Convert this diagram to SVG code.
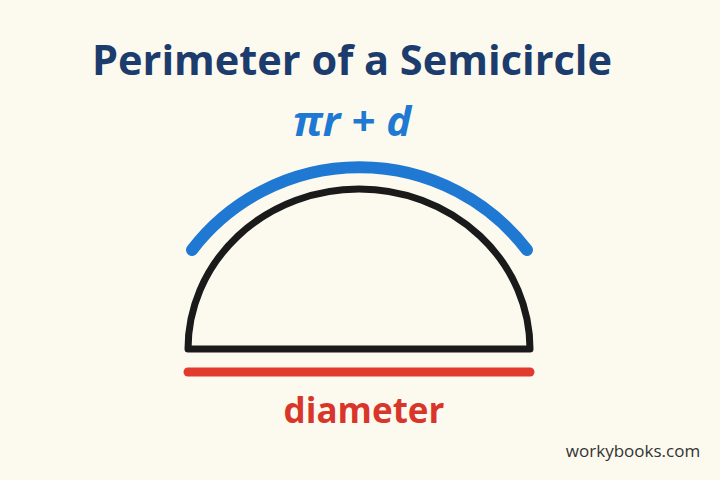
<svg xmlns="http://www.w3.org/2000/svg" width="720" height="480" viewBox="0 0 720 480">
<style>
.t{font-family:"Open Sans","Noto Sans","Liberation Sans",sans-serif;font-weight:bold;text-anchor:middle}
</style>
<rect width="720" height="480" fill="#fcfaef"/>
<text class="t" x="352" y="75" font-size="41.5" fill="#1b3c6c">Perimeter of a Semicircle</text>
<text class="t" x="352" y="136" font-size="42" fill="#1f78d1" font-style="italic">πr + d</text>
<g id="semicircle">
<path d="M188,349 A171,160 0 0 1 530,349 Z" fill="none" stroke="#1a1a1a" stroke-width="7" stroke-linejoin="round"/>
</g>
<g id="connectors">
<path d="M192,250 A211,211 0 0 1 527,250" fill="none" stroke="#1f78d1" stroke-width="12" stroke-linecap="round"/>
<line x1="188" y1="372" x2="530" y2="372" stroke="#e23a2e" stroke-width="9" stroke-linecap="round"/>
</g>
<text class="t" x="364" y="423" font-size="35" fill="#d9362b">diameter</text>
<text x="633" y="457" font-family="'Open Sans','Noto Sans',sans-serif" font-size="17" fill="#333" text-anchor="middle">workybooks.com</text>
</svg>
